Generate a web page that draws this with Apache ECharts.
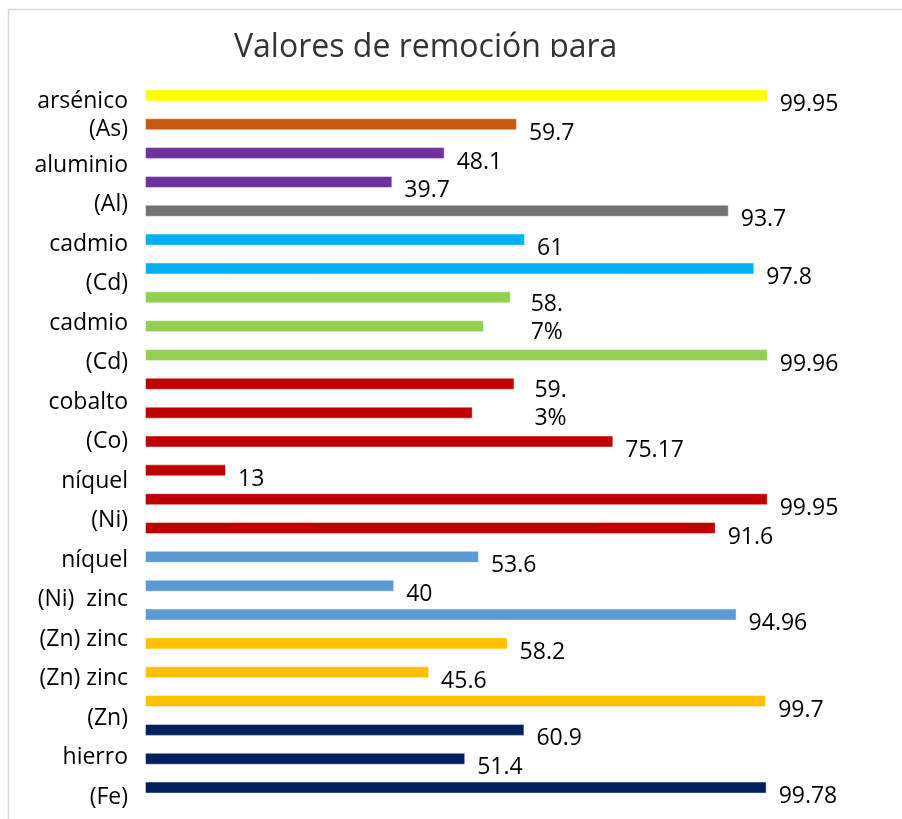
<!DOCTYPE html>
<html>
<head>
<meta charset="utf-8">
<style>
  html, body { margin: 0; padding: 0; background: #fff; }
  #chart { width: 902px; height: 819px; }
</style>
<script src="https://cdn.jsdelivr.net/npm/echarts@6/dist/echarts.min.js"></script>
</head>
<body>
<div id="chart"></div>
<script>
// axis text on the left (it does not line up with the bars in the original)
const labelsTop = ['arsénico', '(As)']
const labelsMain = ['aluminio', '(Al)', 'cadmio', '(Cd)', 'cadmio', '(Cd)', 'cobalto', '(Co)',
  'níquel', '(Ni)', 'níquel', '(Ni)  zinc', '(Zn) zinc', '(Zn) zinc', '(Zn)', 'hierro', '(Fe)']

// one entry per bar, top to bottom
const barNames = ['b1', 'b2', 'b3', 'b4', 'b5', 'b6', 'b7', 'b8', 'b9', 'b10', 'b11', 'b12', 'b13',
  'b14', 'b15', 'b16', 'b17', 'b18', 'b19', 'b20', 'b21', 'b22', 'b23', 'b24', 'b25']
const barValues = [99.95, 59.7, 48.1, 39.7, 93.7, 61, 97.8, 58.7, 54.4, 99.96, 59.3, 52.6, 75.17,
  13, 99.95, 91.6, 53.6, 40, 94.96, 58.2, 45.6, 99.7, 60.9, 51.4, 99.78]
const valueLabels = ['99.95', '59.7', '48.1', '39.7', '93.7', '61', '97.8', '58.\n7%', '', '99.96',
  '59.\n3%', '', '75.17', '13', '99.95', '91.6', '53.6', '40', '94.96', '58.2', '45.6', '99.7',
  '60.9', '51.4', '99.78']
const barColors = ['#FFFF00', '#C55A11', '#7030A0', '#7030A0', '#767171', '#00B0F0', '#00B0F0',
  '#92D050', '#92D050', '#92D050', '#C00000', '#C00000', '#C00000', '#C00000', '#C00000', '#C00000',
  '#5B9BD5', '#5B9BD5', '#5B9BD5', '#FFC000', '#FFC000', '#FFC000', '#002060', '#002060', '#002060']

const font = '"Open Sans", "Noto Sans", sans-serif'
const chart = echarts.init(document.getElementById('chart'))

const hiddenX = (gridIndex) => ({
  type: 'value', gridIndex, min: 0, max: 100, show: false
})
const labelAxis = (gridIndex, data) => ({
  type: 'category', gridIndex, data, inverse: true, boundaryGap: false,
  axisLine: { show: false }, axisTick: { show: false }, splitLine: { show: false },
  axisLabel: { margin: 17, color: '#000', fontSize: 23, fontFamily: font, interval: 0 }
})

const option = {
  animation: false,
  backgroundColor: '#fff',
  title: {
    text: 'Valores de remoción para',
    left: 229,
    top: 27,
    textStyle: { fontFamily: font, fontSize: 32, fontWeight: 'normal', color: '#333' }
  },
  graphic: [
    // chart frame, only top and left edges are inside the picture
    { type: 'rect', left: 6, top: 7, shape: { width: 1000, height: 1000 },
      style: { fill: 'none', stroke: '#d9d9d9', lineWidth: 1.5 }, z: 1, silent: true },
    // plot area hides the lower part of the title
    { type: 'rect', left: 180, top: 57, shape: { width: 520, height: 24 },
      style: { fill: '#fff' }, z: 100, silent: true }
  ],
  grid: [
    { left: 145, right: 134, top: 81, bottom: 17 },
    { left: 145, right: 134, top: 101, bottom: 690 },
    { left: 145, right: 134, top: 165, bottom: 22 }
  ],
  xAxis: [hiddenX(0), hiddenX(1), hiddenX(2)],
  yAxis: [
    { type: 'category', gridIndex: 0, data: barNames, inverse: true, show: false },
    labelAxis(1, labelsTop),
    labelAxis(2, labelsMain)
  ],
  series: [{
    type: 'bar',
    xAxisIndex: 0,
    yAxisIndex: 0,
    barWidth: 12,
    data: barValues.map((v, i) => {
      const wrapped = valueLabels[i].includes('\n')
      return {
        value: v,
        itemStyle: { color: barColors[i], borderColor: 'rgba(255,255,255,0.45)', borderWidth: 1 },
        label: {
          show: valueLabels[i] !== '',
          formatter: valueLabels[i],
          position: 'right',
          distance: wrapped ? 20 : 12,
          offset: wrapped ? [0, 21] : [0, 9],
          lineHeight: 28,
          color: '#000',
          fontSize: 23,
          fontFamily: font
        }
      }
    })
  }]
}

chart.setOption(option)
</script>
</body>
</html>
